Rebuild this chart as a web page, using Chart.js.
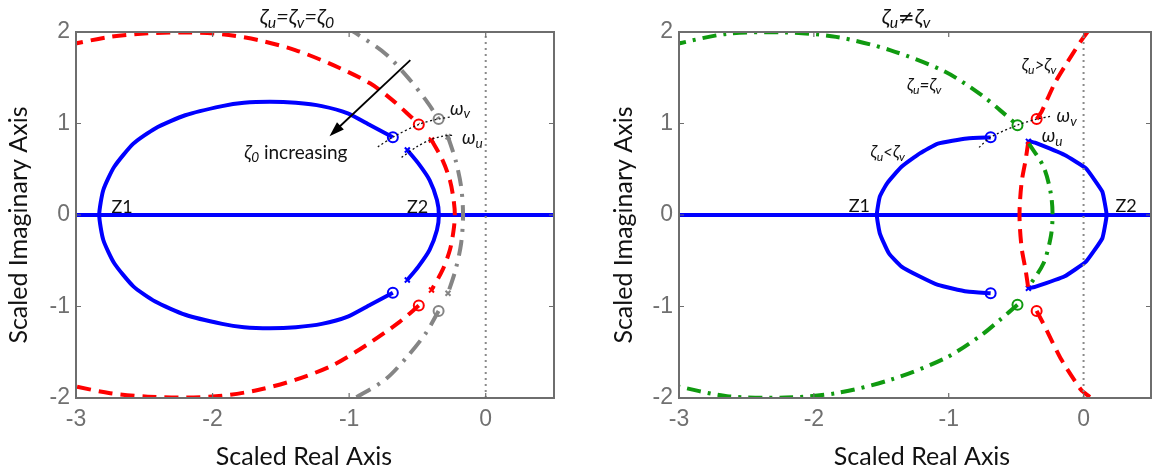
<!DOCTYPE html>
<html>
<head>
<meta charset="utf-8">
<script src="https://cdn.jsdelivr.net/npm/chart.js@4/dist/chart.umd.min.js"></script>
<style>
  html, body { margin: 0; padding: 0; background: #fff; }
  #wrap { position: relative; width: 1158px; height: 476px; overflow: hidden; }
  .pane { position: absolute; top: 0; width: 579px; height: 476px; }
</style>
</head>
<body>
<div id="wrap">
  <div class="pane" style="left:0"><canvas id="locus-equal"></canvas></div>
  <div class="pane" style="left:579px"><canvas id="locus-unequal"></canvas></div>
</div>
<script>
// axes
const realTicks = [-3, -2, -1, 0]
const imagTicks = [-2, -1, 0, 1, 2]
const realRange = [-3, 0.5]
const imagRange = [-2, 2]

const realAxisLine = [[-3, 0], [0.5, 0]]
const stabilityLine = [[0, -2], [0, 2]]

// --- left: zeta_u = zeta_v = zeta_0 ---
const eqBlueLoop = [[-0.68, 0.85], [-0.845, 0.98], [-1.01, 1.11], [-1.2, 1.19], [-1.39, 1.226], [-1.58, 1.237], [-1.77, 1.226], [-1.93, 1.19], [-2.2, 1.09], [-2.42, 0.946], [-2.58, 0.78], [-2.72, 0.527], [-2.8, 0.273], [-2.83, 0],
  [-2.8, -0.273], [-2.72, -0.527], [-2.58, -0.78], [-2.42, -0.946], [-2.2, -1.09], [-1.93, -1.19], [-1.77, -1.226], [-1.58, -1.237], [-1.39, -1.226], [-1.2, -1.19], [-1.01, -1.11], [-0.845, -0.98], [-0.68, -0.85]]
const eqBlueArc = [[-0.574, 0.71], [-0.493, 0.564], [-0.411, 0.382], [-0.357, 0.164], [-0.343, 0], [-0.357, -0.164], [-0.411, -0.382], [-0.493, -0.564], [-0.574, -0.71]]

const eqRedUpper = [[-3.05, 1.86], [-2.75, 1.947], [-2.475, 1.985], [-2.2, 1.995], [-1.93, 1.976], [-1.66, 1.91], [-1.39, 1.8], [-1.12, 1.64], [-0.847, 1.44], [-0.683, 1.255], [-0.574, 1.11], [-0.49, 0.99]]
const eqRedLower = [[-0.49, -0.99], [-0.628, -1.165], [-0.872, -1.42], [-1.117, -1.64], [-1.39, -1.8], [-1.66, -1.91], [-1.93, -1.976], [-2.2, -1.995], [-2.475, -1.985], [-2.75, -1.947], [-3.05, -1.86]]
const eqRedArc = [[-0.397, 0.82], [-0.316, 0.6], [-0.262, 0.38], [-0.235, 0.164], [-0.226, 0], [-0.235, -0.164], [-0.262, -0.38], [-0.316, -0.6], [-0.397, -0.82]]

const eqGrayUpper = [[-1.02, 2.05], [-0.954, 1.99], [-0.737, 1.765], [-0.574, 1.51], [-0.438, 1.255], [-0.345, 1.05]]
const eqGrayLower = [[-0.345, -1.05], [-0.438, -1.29], [-0.574, -1.547], [-0.737, -1.8], [-0.957, -2.0], [-1.02, -2.05]]
const eqGrayArc = [[-0.276, 0.855], [-0.221, 0.6], [-0.18, 0.31], [-0.166, 0], [-0.18, -0.31], [-0.221, -0.6], [-0.276, -0.855]]

const eqBlueZeros = [[-0.68, 0.85], [-0.68, -0.85]]
const eqRedZeros = [[-0.49, 0.99], [-0.49, -0.99]]
const eqGrayZeros = [[-0.345, 1.05], [-0.345, -1.05]]
const eqBluePoles = [[-0.574, 0.71], [-0.574, -0.71]]
const eqRedPoles = [[-0.397, 0.82], [-0.397, -0.82]]
const eqGrayPoles = [[-0.276, 0.855], [-0.276, -0.855]]

const eqOmegaV = [[-0.79, 0.745], [-0.68, 0.85], [-0.49, 0.99], [-0.345, 1.05], [-0.248, 1.073]]
const eqOmegaU = [[-0.616, 0.63], [-0.5, 0.75], [-0.408, 0.82], [-0.32, 0.86], [-0.232, 0.873]]
const eqArrow = [[-0.552, 1.692], [-1.144, 0.862]]

// --- right: zeta_u != zeta_v ---
const neBlueLoop = [[-0.689, 0.848], [-0.864, 0.837], [-1.08, 0.78], [-1.214, 0.673], [-1.35, 0.527], [-1.457, 0.346], [-1.511, 0.2], [-1.533, 0],
  [-1.511, -0.2], [-1.444, -0.418], [-1.35, -0.564], [-1.214, -0.673], [-1.08, -0.764], [-0.864, -0.837], [-0.689, -0.855]]
const neBlueArc = [[-0.409, 0.811], [-0.36, 0.79], [-0.14, 0.655], [0.018, 0.51], [0.139, 0.255], [0.171, 0], [0.139, -0.255], [0.018, -0.51], [-0.14, -0.67], [-0.36, -0.785], [-0.409, -0.8]]

const neGreenUpper = [[-3.05, 1.86], [-2.644, 1.98], [-2.21, 1.995], [-1.835, 1.947], [-1.43, 1.8], [-1.026, 1.565], [-0.756, 1.31], [-0.62, 1.146], [-0.49, 0.982]]
const neGreenLower = [[-0.49, -0.982], [-0.62, -1.146], [-0.756, -1.31], [-1.026, -1.565], [-1.43, -1.8], [-1.835, -1.947], [-2.21, -1.995], [-2.644, -1.98], [-3.05, -1.86]]
const neGreenArc = [[-0.405, 0.78], [-0.297, 0.527], [-0.243, 0.237], [-0.23, 0], [-0.243, -0.237], [-0.297, -0.527], [-0.405, -0.78]]

const neRedUpper = [[-0.348, 1.048], [-0.311, 1.13], [-0.214, 1.44], [-0.12, 1.67], [-0.02, 1.9], [0.045, 2.03]]
const neRedLower = [[-0.348, -1.048], [-0.287, -1.22], [-0.165, -1.58], [-0.019, -1.91], [0.054, -2.0], [0.065, -2.03]]
const neRedArc = [[-0.41, 0.8], [-0.43, 0.6], [-0.46, 0.35], [-0.475, 0], [-0.46, -0.35], [-0.43, -0.6], [-0.41, -0.8]]

const neBlueZeros = [[-0.689, 0.85], [-0.689, -0.855]]
const neGreenZeros = [[-0.49, 0.982], [-0.49, -0.982]]
const neRedZeros = [[-0.348, 1.048], [-0.348, -1.048]]
const nePoles = [[-0.409, 0.805], [-0.409, -0.8]]

const neOmegaV = [[-0.775, 0.739], [-0.689, 0.85], [-0.49, 0.982], [-0.348, 1.048], [-0.238, 1.08]]

const BLUE = "#0000ff", RED = "#ff0000", GRAY = "#858585", GREEN = "#109a10"
const TEXT_FONT = "Lato, 'Open Sans', sans-serif"
const MATH_FONT = "'DejaVu Sans', sans-serif"

const pts = arr => arr.map(([x, y]) => ({ x, y }))

const curve = (data, color, dash, tension) => ({
  data: pts(data), showLine: true, borderColor: color, borderWidth: 4,
  borderDash: dash || [], pointRadius: 0, tension: tension || 0, fill: false,
})

const zeros = (data, color) => ({
  data: pts(data), showLine: false, pointStyle: "circle", pointRadius: 5,
  pointBorderWidth: 2, pointBorderColor: color, pointBackgroundColor: "rgba(0,0,0,0)",
})

const poles = (data, color) => ({
  data: pts(data), showLine: false, pointStyle: "crossRot", pointRadius: 3.5,
  pointBorderWidth: 2, pointBorderColor: color,
})

const dotted = (data) => ({
  data: pts(data), showLine: true, borderColor: "#111", borderWidth: 1.3,
  borderDash: [2, 2.5], pointRadius: 0, tension: 0.3,
})

const zeroLine = () => ({
  data: pts(stabilityLine), showLine: true, borderColor: "#8a8a8a", borderWidth: 2,
  borderDash: [2, 4], pointRadius: 0,
})

const DASH_RED = [14, 8]
const DASH_GRAY = [16, 8, 3, 8]
const DASH_GREEN = [14, 7, 3, 7]

// draws mixed text: [string, "n" | "i" | "s" | "m"] (normal, italic, italic subscript, math symbol)
const drawRich = (ctx, parts, x, y, size, align) => {
  const fontFor = st => {
    if (st === "m") return (size * 0.9) + "px " + MATH_FONT
    return (st === "n" ? "" : "italic ") + (st === "s" ? size * 0.72 : size) + "px " + TEXT_FONT
  }
  let w = 0
  parts.forEach(([t, st]) => { ctx.font = fontFor(st); w += ctx.measureText(t).width })
  let cx = align === "center" ? x - w / 2 : x
  ctx.textAlign = "left"
  ctx.textBaseline = "alphabetic"
  parts.forEach(([t, st]) => {
    ctx.font = fontFor(st)
    ctx.fillText(t, cx, st === "s" ? y + size * 0.2 : y)
    cx += ctx.measureText(t).width
  })
}

const framePlugin = {
  id: "locusFrame",
  afterDatasetsDraw(chart, args, opts) {
    const { ctx, chartArea: a, scales } = chart
    ctx.save()
    ctx.strokeStyle = "#6e6e6e"
    ctx.lineWidth = 2
    ctx.strokeRect(a.left, a.top, a.right - a.left, a.bottom - a.top)
    ctx.lineWidth = 1.2
    ctx.beginPath()
    realTicks.forEach(v => {
      const px = scales.x.getPixelForValue(v)
      ctx.moveTo(px, a.bottom); ctx.lineTo(px, a.bottom - 5)
      ctx.moveTo(px, a.top); ctx.lineTo(px, a.top + 5)
    })
    imagTicks.forEach(v => {
      const py = scales.y.getPixelForValue(v)
      ctx.moveTo(a.left, py); ctx.lineTo(a.left + 5, py)
      ctx.moveTo(a.right, py); ctx.lineTo(a.right - 5, py)
    })
    ctx.stroke()

    // axis titles
    ctx.fillStyle = "#111"
    ctx.font = "25px " + TEXT_FONT
    ctx.textAlign = "center"
    ctx.textBaseline = "middle"
    ctx.fillText("Scaled Real Axis", opts.xTitle[0], opts.xTitle[1])
    ctx.save()
    ctx.translate(opts.yTitle[0], opts.yTitle[1])
    ctx.rotate(-Math.PI / 2)
    ctx.fillText("Scaled Imaginary Axis", 0, 0)
    ctx.restore()

    // heading
    drawRich(ctx, opts.heading, opts.headingAt[0], opts.headingAt[1], 22, "center")

    // labels placed in data units
    opts.notes.forEach(n => {
      const px = scales.x.getPixelForValue(n.at[0])
      const py = scales.y.getPixelForValue(n.at[1])
      drawRich(ctx, n.parts, px, py + n.size * 0.35, n.size, n.align || "left")
    })

    // arrows
    ;(opts.arrows || []).forEach(([p0, p1]) => {
      const x0 = scales.x.getPixelForValue(p0[0]), y0 = scales.y.getPixelForValue(p0[1])
      const x1 = scales.x.getPixelForValue(p1[0]), y1 = scales.y.getPixelForValue(p1[1])
      const ang = Math.atan2(y1 - y0, x1 - x0)
      ctx.strokeStyle = "#000"
      ctx.fillStyle = "#000"
      ctx.lineWidth = 1.8
      ctx.beginPath()
      ctx.moveTo(x0, y0)
      ctx.lineTo(x1 - 10 * Math.cos(ang), y1 - 10 * Math.sin(ang))
      ctx.stroke()
      ctx.beginPath()
      ctx.moveTo(x1, y1)
      ctx.lineTo(x1 - 15 * Math.cos(ang) + 5 * Math.sin(ang), y1 - 15 * Math.sin(ang) - 5 * Math.cos(ang))
      ctx.lineTo(x1 - 15 * Math.cos(ang) - 5 * Math.sin(ang), y1 - 15 * Math.sin(ang) + 5 * Math.cos(ang))
      ctx.closePath()
      ctx.fill()
    })
    ctx.restore()
  },
}

const tickFont = { family: "'Liberation Sans', Arial, sans-serif", size: 23 }

const locusChart = (canvasId, datasets, yAxisWidth, frameOpts, padRight) => new Chart(document.getElementById(canvasId), {
  type: "scatter",
  data: { datasets },
  options: {
    responsive: true,
    maintainAspectRatio: false,
    animation: false,
    events: [],
    layout: { padding: { top: 32, right: padRight, bottom: 0, left: 0 } },
    scales: {
      x: {
        type: "linear", min: realRange[0], max: realRange[1],
        grid: { display: false, drawTicks: false }, border: { display: false },
        afterBuildTicks: s => { s.ticks = realTicks.map(v => ({ value: v })) },
        afterFit: s => { s.height = 78 },
        ticks: { font: tickFont, color: "#707070", padding: 8, maxRotation: 0, autoSkip: false, callback: v => String(v) },
      },
      y: {
        type: "linear", min: imagRange[0], max: imagRange[1],
        grid: { display: false, drawTicks: false }, border: { display: false },
        afterBuildTicks: s => { s.ticks = imagTicks.map(v => ({ value: v })) },
        afterFit: s => { s.width = yAxisWidth },
        ticks: { font: tickFont, color: "#707070", padding: 6, autoSkip: false, callback: v => String(v) },
      },
    },
    plugins: {
      legend: { display: false },
      tooltip: { enabled: false },
      locusFrame: frameOpts,
    },
  },
  plugins: [framePlugin],
})

const zeta = (s) => [["ζ", "i"], [s, "s"]]

locusChart("locus-equal", [
  zeroLine(),
  dotted(eqOmegaV),
  dotted(eqOmegaU),
  curve(eqGrayUpper, GRAY, DASH_GRAY, 0.3),
  curve(eqGrayLower, GRAY, DASH_GRAY, 0.3),
  curve(eqGrayArc, GRAY, DASH_GRAY, 0.3),
  curve(eqRedUpper, RED, DASH_RED, 0.3),
  curve(eqRedLower, RED, DASH_RED, 0.3),
  curve(eqRedArc, RED, DASH_RED, 0.3),
  curve(realAxisLine, BLUE),
  curve(eqBlueLoop, BLUE, null, 0.2),
  curve(eqBlueArc, BLUE, null, 0.3),
  zeros(eqBlueZeros, BLUE), zeros(eqRedZeros, RED), zeros(eqGrayZeros, GRAY),
  poles(eqBluePoles, BLUE), poles(eqRedPoles, RED), poles(eqGrayPoles, GRAY),
], 76, {
  xTitle: [304, 457], yTitle: [19, 225],
  heading: [...zeta("u"), ["=", "i"], ...zeta("v"), ["=", "i"], ...zeta("0")], headingAt: [297, 24],
  notes: [
    { at: [-2.74, 0.09], size: 18, parts: [["Z1", "n"]] },
    { at: [-0.577, 0.09], size: 18, parts: [["Z2", "n"]] },
    { at: [-1.39, 0.69], size: 19, align: "center", parts: [...zeta("0"), [" increasing", "n"]] },
    { at: [-0.262, 1.17], size: 19, parts: [["ω", "i"], ["v", "s"]] },
    { at: [-0.174, 0.85], size: 19, parts: [["ω", "i"], ["u", "s"]] },
  ],
  arrows: [eqArrow],
}, 25)

locusChart("locus-unequal", [
  zeroLine(),
  dotted(neOmegaV),
  curve(neGreenUpper, GREEN, DASH_GREEN, 0.3),
  curve(neGreenLower, GREEN, DASH_GREEN, 0.3),
  curve(neGreenArc, GREEN, DASH_GREEN, 0.3),
  curve(neRedUpper, RED, DASH_RED, 0.2),
  curve(neRedLower, RED, DASH_RED, 0.2),
  curve(neRedArc, RED, DASH_RED, 0.3),
  curve(realAxisLine, BLUE),
  curve(neBlueLoop, BLUE, null, 0.15),
  curve(neBlueArc, BLUE, null, 0.1),
  zeros(neBlueZeros, BLUE), zeros(neGreenZeros, GREEN), zeros(neRedZeros, RED),
  poles(nePoles, BLUE),
], 100, {
  xTitle: [343, 457], yTitle: [45, 225],
  heading: [...zeta("u"), ["≠", "m"], ...zeta("v")], headingAt: [327, 24],
  notes: [
    { at: [-1.742, 0.1], size: 18, parts: [["Z1", "n"]] },
    { at: [0.237, 0.1], size: 18, parts: [["Z2", "n"]] },
    { at: [-0.458, 1.64], size: 17, parts: [...zeta("u"), [">", "i"], ...zeta("v")] },
    { at: [-1.31, 1.42], size: 17, parts: [...zeta("u"), ["=", "i"], ...zeta("v")] },
    { at: [-1.58, 0.69], size: 17, parts: [...zeta("u"), ["<", "i"], ...zeta("v")] },
    { at: [-0.2, 1.09], size: 19, parts: [["ω", "i"], ["v", "s"]] },
    { at: [-0.31, 0.873], size: 19, parts: [["ω", "i"], ["u", "s"]] },
  ],
}, 0)
</script>
</body>
</html>
